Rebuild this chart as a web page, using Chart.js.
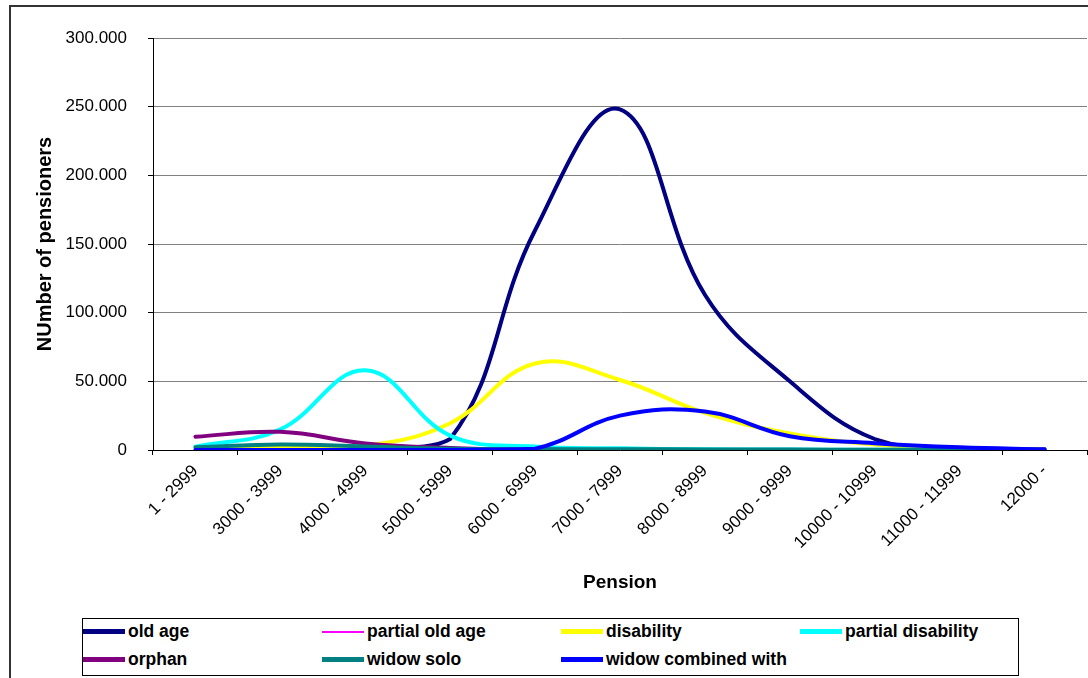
<!DOCTYPE html>
<html>
<head>
<meta charset="utf-8">
<title>Pensioners by pension</title>
<script src="https://cdn.jsdelivr.net/npm/chart.js@4.4.1/dist/chart.umd.min.js"></script>
<style>
  html, body { margin: 0; padding: 0; background: #fff; }
  #wrap { position: relative; width: 1088px; height: 678px; overflow: hidden; }
  #frame { position: absolute; left: 9px; top: 5px; width: 1200px; height: 800px;
           border-left: 2px solid #333; border-top: 2px solid #333; }
  #chart { position: absolute; left: 0; top: 0; }
  #legend { position: absolute; left: 82px; top: 618px; width: 935px; height: 56px;
            border: 1px solid #000; background: #fff;
            font: bold 17.5px "Liberation Sans", Arial, sans-serif; color: #000; }
  .item { position: absolute; height: 20px; display: flex; align-items: center; white-space: nowrap; }
  .swatch { width: 42px; height: 5px; margin-right: 3px; }
</style>
</head>
<body>
<div id="wrap">
  <div id="frame"></div>
  <canvas id="chart" width="1088" height="678"></canvas>
  <div id="legend"></div>
</div>
<script>
////Data
const categories = ["1 - 2999", "3000 - 3999", "4000 - 4999", "5000 - 5999", "6000 - 6999",
  "7000 - 7999", "8000 - 8999", "9000 - 9999", "10000 - 10999", "11000 - 11999", "12000 -"];

const oldAge            = [0, 0, 300, 8000, 160000, 248000, 113000, 50000, 8000, 1200, 500];
const partialOldAge     = [0, 0, 0, 0, 0, 0, 0, 0, 0, 0, 0];
const disability        = [500, 1500, 3000, 19500, 63000, 51000, 27000, 12000, 4000, 1000, 300];
const partialDisability = [2400, 15000, 58000, 10500, 2500, 1200, 500, 300, 200, 100, 0];
const orphan            = [9700, 13200, 4800, 1500, 300, 0, 0, 0, 0, 0, 0];
const widowSolo         = [2000, 4000, 2500, 1000, 500, 500, 400, 300, 200, 100, 0];
const widowCombined     = [0, 0, 0, 0, 1000, 25000, 28000, 10000, 5000, 2000, 500];

const yTickValues = [0, 50000, 100000, 150000, 200000, 250000, 300000];

const series = [
  { label: "old age", data: oldAge, color: "#000080", width: 4 },
  { label: "partial old age", data: partialOldAge, color: "#ff00ff", width: 2 },
  { label: "disability", data: disability, color: "#ffff00", width: 4 },
  { label: "partial disability", data: partialDisability, color: "#00ffff", width: 4 },
  { label: "orphan", data: orphan, color: "#800080", width: 4 },
  { label: "widow solo", data: widowSolo, color: "#008080", width: 4 },
  { label: "widow combined with", data: widowCombined, color: "#0000ff", width: 4 },
];

const fontFamily = '"Liberation Sans", Arial, sans-serif';

// 300000 -> "300.000"
function formatThousands(v) {
  return String(v).replace(/\B(?=(\d{3})+(?!\d))/g, ".");
}

////Chart
const ctx = document.getElementById("chart").getContext("2d");
const chart = new Chart(ctx, {
  type: "line",
  data: {
    labels: categories,
    datasets: series.map((s, i) => ({
      label: s.label,
      data: s.data,
      borderColor: s.color,
      backgroundColor: s.color,
      borderWidth: s.width,
      order: series.length - i, // later series drawn on top, like excel
      fill: false,
    })),
  },
  options: {
    responsive: false,
    animation: false,
    layout: { padding: { top: 38, right: 1, left: 0, bottom: 0 } },
    elements: {
      point: { radius: 0 },
      line: { tension: 0.4, borderCapStyle: "round", borderJoinStyle: "round" },
    },
    plugins: {
      legend: { display: false },
      tooltip: { enabled: false },
    },
    scales: {
      x: {
        offset: true,
        grid: { offset: true, drawOnChartArea: false, tickLength: 5, tickColor: "#000" },
        border: { color: "#000" },
        ticks: {
          autoSkip: false,
          maxRotation: 45,
          minRotation: 45,
          padding: 6,
          color: "#000",
          font: { family: fontFamily, size: 17 },
        },
        title: {
          display: true,
          text: "Pension",
          color: "#000",
          font: { family: fontFamily, size: 19, weight: "bold" },
          padding: { top: 0, bottom: 84 },
        },
        afterFit(scale) {
          scale.height = 228;
        },
      },
      y: {
        min: 0,
        max: 300000,
        afterBuildTicks(scale) {
          scale.ticks = yTickValues.map((v) => ({ value: v }));
        },
        grid: { color: "#808080", tickLength: 5, tickColor: "#000" },
        border: { color: "#000" },
        ticks: {
          padding: 21,
          color: "#000",
          font: { family: fontFamily, size: 17 },
          callback: (v) => formatThousands(v),
        },
        title: {
          display: true,
          text: "NUmber of pensioners",
          color: "#000",
          font: { family: fontFamily, size: 20, weight: "bold" },
          padding: { top: 33, bottom: 0 },
        },
        afterFit(scale) {
          scale.width = 153;
        },
      },
    },
  },
});

////Legend (4 columns, like the excel box)
const legend = document.getElementById("legend");
series.forEach((s, i) => {
  const item = document.createElement("div");
  item.className = "item";
  item.style.left = (i % 4) * 239 + "px";
  item.style.top = (i < 4 ? 2.5 : 30.5) + "px";
  const sw = document.createElement("span");
  sw.className = "swatch";
  sw.style.background = s.color;
  if (s.width < 4) sw.style.height = "2px";
  const txt = document.createElement("span");
  txt.textContent = s.label;
  item.appendChild(sw);
  item.appendChild(txt);
  legend.appendChild(item);
});
</script>
</body>
</html>
